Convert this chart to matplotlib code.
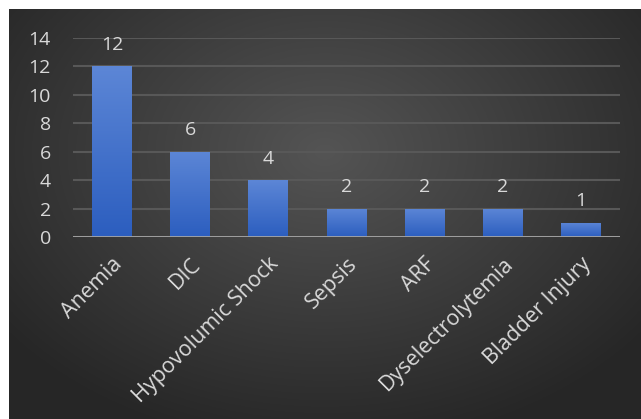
import matplotlib.pyplot as plt
import numpy as np
from matplotlib.colors import LinearSegmentedColormap

categories = ['Anemia', 'DIC', 'Hypovolumic Shock', 'Sepsis', 'ARF',
              'Dyselectrolytemia', 'Bladder Injury']
counts = [12, 6, 4, 2, 2, 2, 1]
yticks = [0, 2, 4, 6, 8, 10, 12, 14]

plt.rcParams['font.family'] = ['Open Sans', 'DejaVu Sans']
txt = '#d9d9d9'

fig = plt.figure(figsize=(6.41, 4.19), dpi=100)
fig.patch.set_facecolor('white')

# dark radial background panel
bg = fig.add_axes([9 / 641, 0, 1 - 9 / 641, 1 - 9 / 419])
bg.set_axis_off()
yy, xx = np.mgrid[0:1:300j, 0:1:460j]
r = np.sqrt(((xx - 0.5) / 0.75) ** 2 + ((yy - 0.35) / 0.85) ** 2)
shade = np.clip(0.33 - 0.21 * r, 0.15, 0.33)
bg.imshow(np.dstack([shade] * 3), aspect='auto', extent=[0, 1, 1, 0])
bg.set_xlim(0, 1)
bg.set_ylim(1, 0)

ax = fig.add_axes([73 / 641, 1 - 237 / 419, (620 - 73) / 641, (237 - 38) / 419])
ax.patch.set_alpha(0)
x = np.arange(len(categories))
bars = ax.bar(x, counts, width=0.51, color='#4472c4', zorder=3)

# vertical blue gradient on each bar
grad = np.linspace(0, 1, 100).reshape(-1, 1)
cmap = LinearSegmentedColormap.from_list('b', ['#2c5ebf', '#5c86d6'])
for b in bars:
    im = ax.imshow(grad, cmap=cmap, aspect='auto', origin='lower', zorder=4,
                   extent=[b.get_x(), b.get_x() + b.get_width(), 0, b.get_height()])
    im.set_clip_path(b)

for xi, v in zip(x, counts):
    ax.annotate(str(v), (xi, v), xytext=(0, 9), textcoords='offset points',
                ha='center', va='bottom', color=txt, fontsize=14)

ax.set_xlim(-0.5, len(categories) - 0.5)
ax.set_ylim(0, 14)
ax.set_yticks(yticks)
ax.yaxis.grid(True, color='#585858', linewidth=1.5, zorder=0)
ax.axhline(0, color='#a6a6a6', linewidth=2, zorder=5)
for s in ax.spines.values():
    s.set_visible(False)
ax.tick_params(axis='both', length=0, colors=txt)
ax.tick_params(axis='y', pad=16, labelsize=14)
ax.set_xticks(x)
ax.set_xticklabels(categories, rotation=45, ha='right', rotation_mode='anchor')
ax.tick_params(axis='x', pad=12, labelsize=15.5)

fig.savefig('out.png', dpi=100)
